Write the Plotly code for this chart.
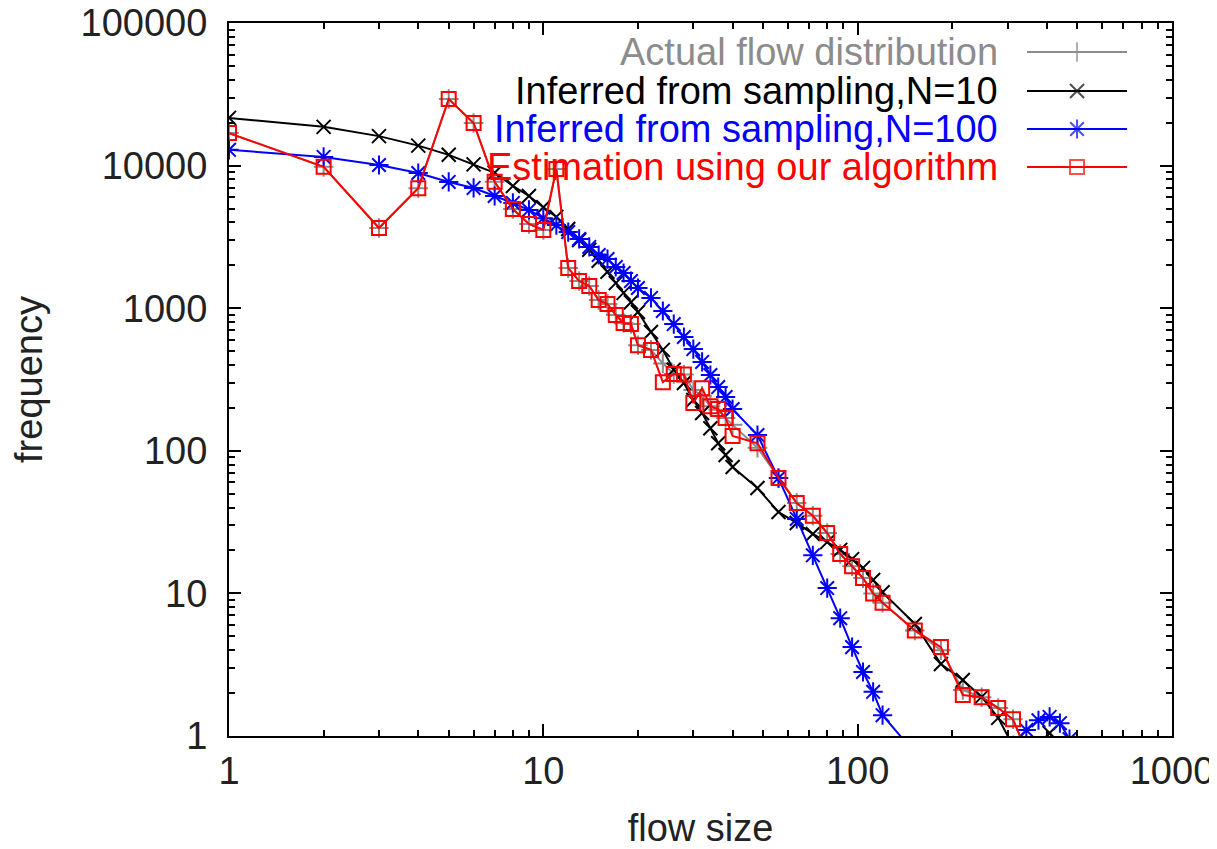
import plotly.graph_objects as go

# flow size bins
x_small = list(range(1, 21)) + [22, 24, 26, 28, 30, 32, 34, 36, 38, 40]
x_mid = [48, 56, 64, 72, 80, 88, 96, 104, 112, 120]
x_tail = [152, 184, 216, 248, 280, 312, 344, 376, 408, 440, 472]

est_x = x_small + x_mid + x_tail[:7]
est_y = [16900, 9800, 3650, 6950, 29300, 19900, 7700, 4960, 3900, 3540,
         9460, 1910, 1550, 1430, 1140, 1070, 896, 787, 776, 550,
         510, 303, 346, 343, 216, 275, 205, 196, 170, 127,
         113, 64.5, 43, 35, 26.5, 18.9, 15.5, 12.8, 10.0, 8.6,
         5.5, 4.2, 1.94, 1.87, 1.57, 1.31, 0.78]

actual_x = est_x
actual_y = [16900, 9800, 3650, 6950, 29300, 19900, 7700, 4960, 3900, 3540,
            9460, 1910, 1550, 1430, 1140, 1070, 896, 787, 776, 550,
            510, 410, 346, 343, 267, 243, 205, 194, 170, 152,
            105, 64.5, 43, 35, 26.5, 18.9, 15.5, 12.8, 10.0, 8.6,
            5.5, 4.0, 2.1, 1.87, 1.57, 1.31, 0.78]

n10_x = x_small + x_mid + x_tail[:10]
n10_y = [21600, 18700, 16100, 13800, 11900, 10200, 8900, 7200, 6120, 5100,
         4370, 3590, 3010, 2570, 2150, 1800, 1500, 1280, 1100, 940,
         680, 510, 370, 299, 227, 184, 144, 113, 93.5, 77,
         54.8, 37.2, 31.2, 26.1, 22.9, 20.2, 17.4, 15.1, 12.4, 10.2,
         6.1, 3.2, 2.47, 1.88, 1.34, 0.85, 0.5, 0.85, 1.05, 0.8]

n100_x = x_small + x_mid + x_tail
n100_y = [12900, 11500, 10100, 8870, 7680, 6970, 6120, 5470, 4890, 4280,
          3830, 3420, 3060, 2690, 2360, 2210, 1945, 1766, 1550, 1386,
          1180, 956, 774, 628, 517, 420, 340, 280, 238, 196,
          129, 64.4, 33.3, 18.5, 10.9, 6.7, 4.2, 2.81, 2.04, 1.40,
          0.76, None, None, None, None, 0.86, 1.10, 1.29, 1.36, 1.23, 0.95]

series = [
    ("Actual flow distribution", actual_x, actual_y, "#8c8c8c", "cross-thin-open", 14),
    ("Inferred from sampling,N=10", n10_x, n10_y, "black", "x-thin-open", 14),
    ("Inferred from sampling,N=100", n100_x, n100_y, "#0000ff", "asterisk-open", 16),
    ("Estimation using our algorithm", est_x, est_y, "#ff0000", "square-open", 14),
]

FONT = "Liberation Sans, Arial, sans-serif"
TEXT = "#222222"

fig = go.Figure()
for name, xs, ys, color, symbol, size in series:
    fig.add_trace(
        go.Scatter(
            x=xs,
            y=ys,
            mode="lines+markers",
            name=name,
            line=dict(color=color, width=2),
            marker=dict(symbol=symbol, size=size, color=color, line=dict(color=color, width=2)),
            connectgaps=False,
            showlegend=False,
        )
    )

# legend drawn gnuplot-style: right-aligned text, sample on the right
legend_rows = [0.9593, 0.9046, 0.8513, 0.798]
for (name, _, _, color, symbol, size), ry in zip(series, legend_rows):
    fig.add_trace(
        go.Scatter(
            x=[0.8462, 0.8993, 0.9523],
            y=[ry, ry, ry],
            xaxis="x2",
            yaxis="y2",
            mode="lines+markers",
            line=dict(color=color, width=2),
            marker=dict(symbol=symbol, size=[0, size, 0], color=color, line=dict(color=color, width=2)),
            showlegend=False,
            hoverinfo="skip",
        )
    )
    fig.add_annotation(
        x=0.8176, y=ry, xref="paper", yref="paper",
        text=name, showarrow=False, xanchor="right", yanchor="middle",
        font=dict(family=FONT, size=38, color=color),
    )

axis_common = dict(
    type="log",
    automargin=False,
    showline=True,
    linecolor="black",
    linewidth=2,
    mirror="allticks",
    ticks="inside",
    ticklen=12,
    tickwidth=1.5,
    tickcolor="black",
    showgrid=False,
    zeroline=False,
    dtick=1,
    tickformat="d",
    ticklabeloverflow="allow",
    tickfont=dict(family=FONT, size=38, color=TEXT),
    minor=dict(ticks="inside", ticklen=6, tickwidth=1.5, tickcolor="black", showgrid=False),
)

# the page body adds an 8px offset, so the margins are trimmed to match
fig.update_layout(
    width=1217,
    height=849,
    paper_bgcolor="white",
    plot_bgcolor="white",
    margin=dict(l=221, r=53, t=15, b=121),
    xaxis=dict(
        axis_common,
        range=[0, 3],
        title=dict(text="flow size", font=dict(family=FONT, size=38, color=TEXT), standoff=24),
    ),
    yaxis=dict(
        axis_common,
        range=[0, 5],
        ticklabelstandoff=12,
        title=dict(text="frequency", font=dict(family=FONT, size=38, color=TEXT), standoff=48),
    ),
    xaxis2=dict(overlaying="x", range=[0, 1], visible=False, anchor="y2"),
    yaxis2=dict(overlaying="y", range=[0, 1], visible=False, anchor="x2"),
    showlegend=False,
)

fig.write_html("out.html")
